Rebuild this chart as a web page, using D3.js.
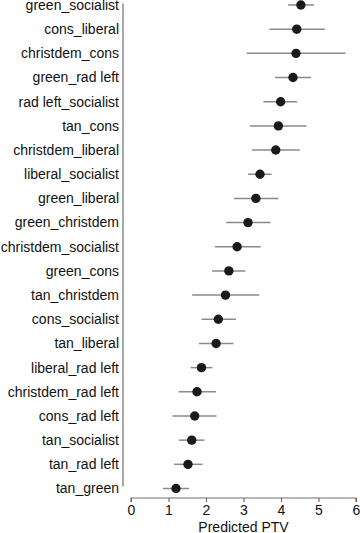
<!DOCTYPE html>
<html>
<head>
<meta charset="utf-8">
<script src="https://cdn.jsdelivr.net/npm/d3@7"></script>
<style>
  body { margin: 0; background: #fff; }
  svg { display: block; font-family: "Liberation Sans", Arial, sans-serif; }
</style>
</head>
<body>
<div id="chart"></div>
<script>
// Party pair labels, top to bottom
const pairs = [
  "green_socialist", "cons_liberal", "christdem_cons", "green_rad left",
  "rad left_socialist", "tan_cons", "christdem_liberal", "liberal_socialist",
  "green_liberal", "green_christdem", "christdem_socialist", "green_cons",
  "tan_christdem", "cons_socialist", "tan_liberal", "liberal_rad left",
  "christdem_rad left", "cons_rad left", "tan_socialist", "tan_rad left", "tan_green"
];
// Point estimates and confidence bounds
const estimates = [4.53, 4.42, 4.40, 4.32, 3.99, 3.93, 3.86, 3.44, 3.33, 3.12, 2.83,
                   2.61, 2.52, 2.33, 2.27, 1.88, 1.76, 1.70, 1.62, 1.52, 1.20];
const lower = [4.19, 3.69, 3.09, 3.84, 3.53, 3.17, 3.23, 3.12, 2.75, 2.54, 2.24,
               2.16, 1.63, 1.88, 1.81, 1.59, 1.27, 1.11, 1.28, 1.15, 0.85];
const upper = [4.88, 5.17, 5.72, 4.80, 4.43, 4.68, 4.50, 3.75, 3.93, 3.72, 3.46,
               3.05, 3.42, 2.80, 2.73, 2.17, 2.27, 2.28, 1.96, 1.91, 1.55];
const xTicks = [0, 1, 2, 3, 4, 5, 6];

const width = 360, height = 533;
const data = pairs.map((p, i) => ({ pair: p, est: estimates[i], lo: lower[i], hi: upper[i] }));

const svg = d3.select("#chart").append("svg")
  .attr("width", width)
  .attr("height", height);

const x = d3.scaleLinear().domain([0, 6]).range([131, 356]);
const y = d3.scalePoint().domain(pairs).range([5, 488.5]);

// y axis: plain line with labels, no ticks
svg.append("line")
  .attr("x1", 123).attr("x2", 123)
  .attr("y1", 3.5).attr("y2", 486.5)
  .attr("stroke", "#6e6e6e").attr("stroke-width", 1.2);

svg.append("g").selectAll("text")
  .data(pairs)
  .join("text")
  .attr("x", 119)
  .attr("y", d => y(d))
  .attr("dy", "0.35em")
  .attr("text-anchor", "end")
  .attr("font-size", 14)
  .attr("fill", "#111")
  .text(d => d);

// x axis
const xAxis = svg.append("g")
  .attr("transform", "translate(0,498)")
  .call(d3.axisBottom(x).tickValues(xTicks).tickFormat(d3.format("d")).tickSize(4).tickPadding(3));
xAxis.select(".domain").attr("stroke", "#6e6e6e").attr("stroke-width", 1.2)
  .attr("d", `M${x(0)},4V0H${x(6)}V4`);
xAxis.selectAll(".tick line").attr("stroke", "#6e6e6e").attr("stroke-width", 1.2);
xAxis.selectAll(".tick text").attr("font-size", 14).attr("fill", "#111")
  .attr("font-family", "Liberation Sans, Arial, sans-serif");

svg.append("text")
  .attr("x", x(3))
  .attr("y", 532)
  .attr("text-anchor", "middle")
  .attr("font-size", 14)
  .attr("fill", "#111")
  .text("Predicted PTV");

// confidence intervals
svg.append("g").selectAll("line")
  .data(data)
  .join("line")
  .attr("x1", d => x(d.lo))
  .attr("x2", d => x(d.hi))
  .attr("y1", d => y(d.pair))
  .attr("y2", d => y(d.pair))
  .attr("stroke", "#8a8a8a")
  .attr("stroke-width", 1.5);

// point estimates
svg.append("g").selectAll("circle")
  .data(data)
  .join("circle")
  .attr("cx", d => x(d.est))
  .attr("cy", d => y(d.pair))
  .attr("r", 4.7)
  .attr("fill", "#1a1a1a");
</script>
</body>
</html>
